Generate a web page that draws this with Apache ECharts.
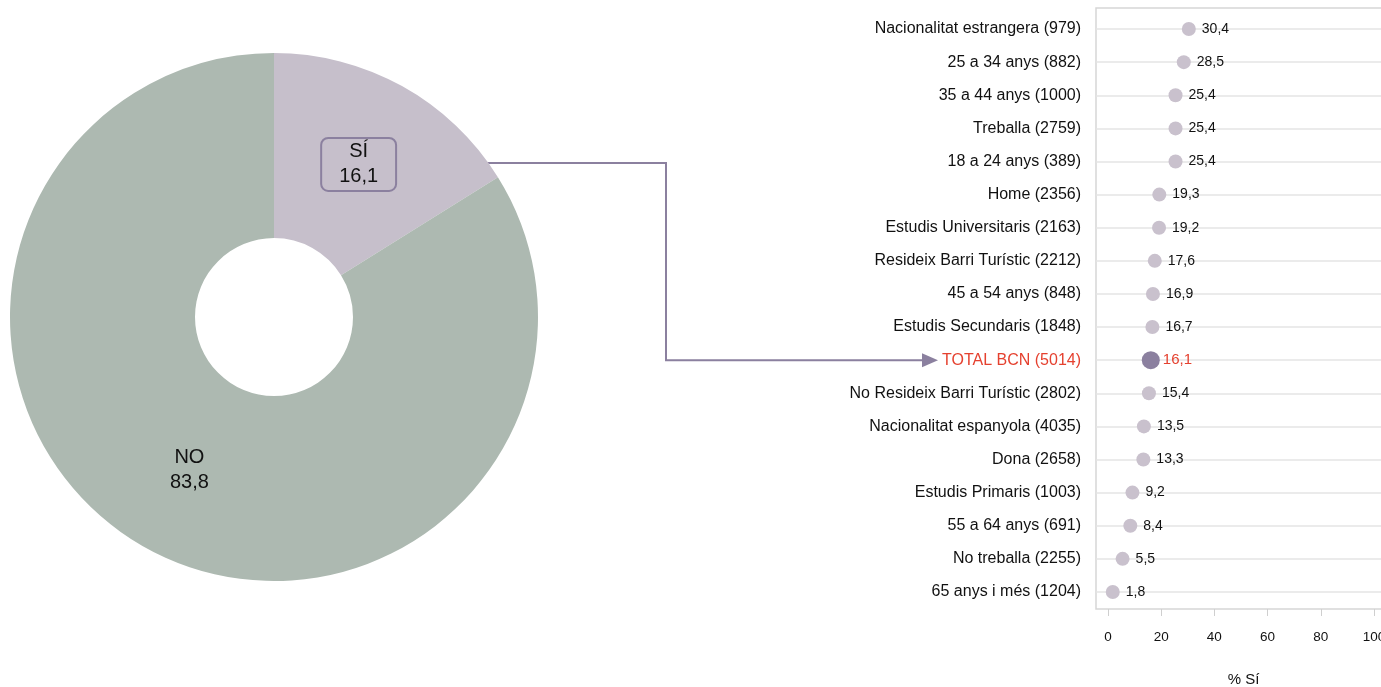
<!DOCTYPE html>
<html>
<head>
<meta charset="utf-8">
<style>
  html, body { margin: 0; padding: 0; background: #fff; overflow: hidden; }
  #chart { width: 1381px; height: 687px; }
</style>
<script src="https://cdn.jsdelivr.net/npm/echarts@6/dist/echarts.min.js"></script>
</head>
<body>
<div id="chart"></div>
<script>
// pie: % Sí / No
const pieNames = ['SÍ', 'NO']
const pieValues = [16.1, 83.8]

// dot chart, top to bottom
const groups = [
  'Nacionalitat estrangera (979)',
  '25 a 34 anys (882)',
  '35 a 44 anys (1000)',
  'Treballa (2759)',
  '18 a 24 anys (389)',
  'Home (2356)',
  'Estudis Universitaris (2163)',
  'Resideix Barri Turístic (2212)',
  '45 a 54 anys (848)',
  'Estudis Secundaris (1848)',
  'TOTAL BCN (5014)',
  'No Resideix Barri Turístic (2802)',
  'Nacionalitat espanyola (4035)',
  'Dona (2658)',
  'Estudis Primaris (1003)',
  '55 a 64 anys (691)',
  'No treballa (2255)',
  '65 anys i més (1204)'
]
const groupValues = [30.4, 28.5, 25.4, 25.4, 25.4, 19.3, 19.2, 17.6, 16.9, 16.7, 16.1, 15.4, 13.5, 13.3, 9.2, 8.4, 5.5, 1.8]
const xTicks = [0, 20, 40, 60, 80, 100]
const totalName = 'TOTAL BCN (5014)'

const FONT = "'Liberation Sans', Arial, sans-serif"
const PURPLE = '#8b809f'
const RED = '#e5412f'
const fmt = v => String(v).replace('.', ',')

const chart = echarts.init(document.getElementById('chart'))

chart.setOption({
  animation: false,
  textStyle: { fontFamily: FONT },
  grid: [
    // outer box with the x axis
    { left: 1096, right: -10, top: 8, bottom: 78, show: true, borderColor: '#d6d6d6', borderWidth: 1.5, outerBoundsMode: 'none' },
    // rows
    { left: 1096, right: -10, top: 12.5, bottom: 78.5, outerBoundsMode: 'none' }
  ],
  xAxis: [{
    gridIndex: 0,
    type: 'value',
    min: -4.5,
    max: 106.4,
    axisLine: { show: false },
    splitLine: { show: false },
    axisTick: { show: true, length: 7, lineStyle: { color: '#cfcfcf' }, customValues: xTicks },
    axisLabel: { customValues: xTicks, margin: 21, fontSize: 13.5, color: '#111', fontFamily: FONT },
    name: '% Sí',
    nameLocation: 'middle',
    nameGap: 63,
    nameTextStyle: { fontSize: 15, color: '#111', fontFamily: FONT }
  }, {
    gridIndex: 1,
    type: 'value',
    min: -4.5,
    max: 106.4,
    show: false
  }],
  yAxis: [{
    gridIndex: 0,
    type: 'value',
    show: false
  }, {
    gridIndex: 1,
    type: 'category',
    inverse: true,
    data: groups,
    axisLine: { show: false },
    axisTick: { show: false },
    splitLine: { show: false },
    axisLabel: {
      margin: 15,
      fontSize: 16,
      color: '#111',
      fontFamily: FONT,
      formatter: v => v === totalName ? '{red|' + v + '}' : v,
      rich: { red: { color: RED, fontSize: 16, fontFamily: FONT } }
    }
  }],
  series: [{
    type: 'pie',
    center: [274, 317],
    radius: [79, 264],
    startAngle: 90,
    clockwise: true,
    silent: true,
    labelLine: { show: false },
    label: {
      position: 'inside',
      fontSize: 20,
      lineHeight: 25,
      color: '#111',
      fontFamily: FONT,
      formatter: p => p.name + '\n' + fmt(p.value)
    },
    data: pieNames.map((n, i) => ({
      name: n,
      value: pieValues[i],
      itemStyle: { color: i === 0 ? '#c6bfcb' : '#adb9b1' },
      label: i === 0 ? {
        borderColor: PURPLE,
        borderWidth: 2,
        borderRadius: 7,
        padding: [3, 18, 0, 18]
      } : {}
    }))
  }, {
    // row guide lines
    type: 'line',
    xAxisIndex: 1,
    yAxisIndex: 1,
    data: [],
    z: 1,
    markLine: {
      z: 1,
      silent: true,
      symbol: 'none',
      label: { show: false },
      lineStyle: { color: '#e4e4e4', width: 1.5, type: 'solid' },
      data: groups.map(g => ({ yAxis: g }))
    }
  }, {
    type: 'scatter',
    xAxisIndex: 1,
    yAxisIndex: 1,
    z: 3,
    silent: true,
    data: groupValues.map((v, i) => {
      const isTotal = groups[i] === totalName
      return {
        value: [v, groups[i]],
        symbolSize: isTotal ? 18 : 14,
        itemStyle: { color: isTotal ? PURPLE : '#c9c1cd', opacity: 1 },
        label: isTotal ? { color: RED, fontSize: 15, distance: 3 } : {}
      }
    }),
    label: {
      show: true,
      position: 'right',
      distance: 6,
      fontSize: 14,
      color: '#111',
      fontFamily: FONT,
      formatter: p => fmt(p.value[0])
    }
  }]
})

// arrow from the pie label to the TOTAL row
const rowY = chart.convertToPixel({ xAxisIndex: 1, yAxisIndex: 1 }, [0, totalName])[1]
const startY = 163
chart.setOption({
  graphic: [{
    type: 'polyline',
    silent: true,
    shape: { points: [[394, startY], [666, startY], [666, rowY], [926, rowY]] },
    style: { stroke: PURPLE, lineWidth: 2, fill: null }
  }, {
    type: 'polygon',
    silent: true,
    shape: { points: [[922, rowY - 7], [938, rowY], [922, rowY + 7]] },
    style: { fill: PURPLE }
  }]
})
</script>
</body>
</html>
